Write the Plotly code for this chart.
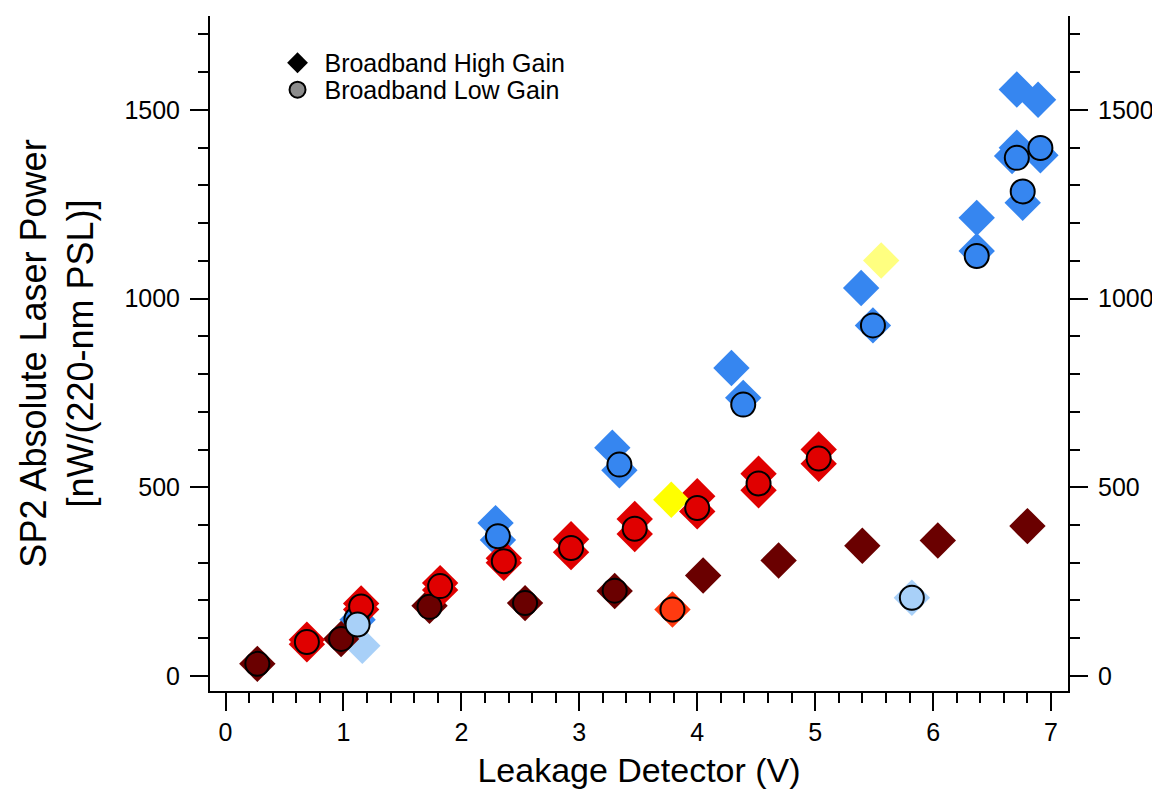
import plotly.graph_objects as go

# ---- data ----
# High gain (diamonds) and low gain (circles), grouped by colour
maroon_hg_x = [0.27, 0.98, 1.73, 2.54, 3.30, 4.05, 4.69, 5.40, 6.04, 6.80]
maroon_hg_y = [32, 98, 186, 193, 225, 266, 306, 345, 359, 397]
maroon_lg_x = [0.27, 0.98, 1.73, 2.54, 3.30]
maroon_lg_y = [32, 98, 183, 193, 226]

red_hg_x = [0.69, 0.69, 1.15, 1.15, 1.82, 1.82, 2.36, 2.36, 2.93, 2.93,
            3.47, 3.47, 4.00, 4.00, 4.52, 4.52, 5.03, 5.03]
red_hg_y = [96, 84, 192, 176, 246, 228, 312, 300, 362, 328,
            416, 376, 476, 436, 536, 492, 600, 562]
red_lg_x = [0.69, 1.15, 1.82, 2.36, 2.93, 3.47, 4.00, 4.52, 5.03]
red_lg_y = [90, 184, 238, 304, 339, 390, 445, 510, 576]

orange_hg_x = [3.79]
orange_hg_y = [176]
orange_lg_x = [3.79]
orange_lg_y = [176]

yellow_hg_x = [3.78]
yellow_hg_y = [467]

paleyellow_hg_x = [5.56]
paleyellow_hg_y = [1101]

blue_hg_x = [1.12, 2.29, 2.31, 3.28, 3.34, 4.29, 4.39, 5.39, 5.49, 6.37, 6.37,
             6.71, 6.67, 6.91, 6.76, 6.71, 6.89]
blue_hg_y = [149, 405, 360, 605, 545, 816, 737, 1028, 929, 1214, 1126,
             1400, 1378, 1380, 1254, 1554, 1527]
blue_lg_x = [1.11, 2.31, 3.34, 4.39, 5.49, 6.37, 6.71, 6.91, 6.76]
blue_lg_y = [150, 370, 560, 719, 929, 1113, 1373, 1399, 1284]

lightblue_hg_x = [1.16, 5.82]
lightblue_hg_y = [80, 207]
lightblue_lg_x = [1.12, 5.82]
lightblue_lg_y = [136, 207]

legend_names = ["Broadband High Gain", "Broadband Low Gain"]
x_title = "Leakage Detector (V)"
y_title = "SP2 Absolute Laser Power<br>[nW/(220-nm PSL)]"

# ---- styles ----
C_MAROON = "#6a0000"
C_RED = "#e00000"
C_ORANGE = "#ff3a10"
C_YELLOW = "#ffff00"
C_PALEYELLOW = "#ffff80"
C_BLUE = "#3686f0"
C_LIGHTBLUE = "#a8d0f8"

DIA = 28
CIR = 24
FONT = "Liberation Sans, Arial, sans-serif"

fig = go.Figure()

def diamonds(x, y, color):
    fig.add_trace(go.Scatter(x=x, y=y, mode="markers", showlegend=False,
                             marker=dict(symbol="diamond", size=DIA, color=color,
                                         line=dict(width=0))))

def circles(x, y, color):
    fig.add_trace(go.Scatter(x=x, y=y, mode="markers", showlegend=False,
                             marker=dict(symbol="circle", size=CIR, color=color,
                                         line=dict(width=2, color="#000000"))))

diamonds(lightblue_hg_x, lightblue_hg_y, C_LIGHTBLUE)
diamonds(blue_hg_x, blue_hg_y, C_BLUE)
diamonds(maroon_hg_x, maroon_hg_y, C_MAROON)
diamonds(red_hg_x, red_hg_y, C_RED)
diamonds(orange_hg_x, orange_hg_y, C_ORANGE)
diamonds(yellow_hg_x, yellow_hg_y, C_YELLOW)
diamonds(paleyellow_hg_x, paleyellow_hg_y, C_PALEYELLOW)

circles(blue_lg_x, blue_lg_y, C_BLUE)
circles(maroon_lg_x, maroon_lg_y, C_MAROON)
circles(red_lg_x, red_lg_y, C_RED)
circles(orange_lg_x, orange_lg_y, C_ORANGE)
circles(lightblue_lg_x, lightblue_lg_y, C_LIGHTBLUE)

# legend entries (two legends so the row spacing can match)
fig.add_trace(go.Scatter(x=[None], y=[None], mode="markers",
                         name="\u00a0" + legend_names[0], legend="legend",
                         marker=dict(symbol="diamond", size=DIA, color="#000000",
                                     line=dict(width=0))))
fig.add_trace(go.Scatter(x=[None], y=[None], mode="markers",
                         name="\u00a0" + legend_names[1], legend="legend2",
                         marker=dict(symbol="circle", size=CIR, color="#8c8c8c",
                                     line=dict(width=2, color="#000000"))))

# right axis carrier
fig.add_trace(go.Scatter(x=[None], y=[None], yaxis="y2", showlegend=False,
                         mode="markers", hoverinfo="skip"))

YR = [-40, 1749]
XR = [-0.1315, 7.144]

axis_common = dict(showline=True, linewidth=2, linecolor="black", automargin=False,
                   ticks="outside", ticklen=18, tickwidth=2, tickcolor="black",
                   showgrid=False, zeroline=False,
                   tickfont=dict(family=FONT, size=25, color="black"))
minor_common = dict(ticklen=10, tickwidth=2, tickcolor="black", ticks="outside")

leg_common = dict(xanchor="left", yanchor="middle", bgcolor="rgba(0,0,0,0)",
                  borderwidth=0, itemsizing="trace",
                  font=dict(family=FONT, size=25, color="black"))

fig.update_layout(
    width=1160, height=792,
    margin=dict(l=202, r=100, t=8, b=109),
    paper_bgcolor="white", plot_bgcolor="white",
    font=dict(family=FONT, color="black"),
    xaxis=dict(range=XR, dtick=1, tick0=0,
               minor=dict(dtick=0.2, **minor_common),
               title=dict(text=x_title, font=dict(family=FONT, size=34), standoff=13),
               **axis_common),
    yaxis=dict(range=YR, dtick=500, tick0=0, ticklabelstandoff=5,
               minor=dict(dtick=100, **minor_common),
               title=dict(text=y_title, font=dict(family=FONT, size=36), standoff=20),
               **axis_common),
    yaxis2=dict(range=YR, dtick=500, tick0=0, overlaying="y", side="right",
                ticklabelstandoff=5,
                minor=dict(dtick=100, **minor_common),
                **axis_common),
    legend=dict(x=0.0787, y=0.9304, **leg_common),
    legend2=dict(x=0.0787, y=0.8904, **leg_common),
    showlegend=True,
)

fig.write_html("out.html")
